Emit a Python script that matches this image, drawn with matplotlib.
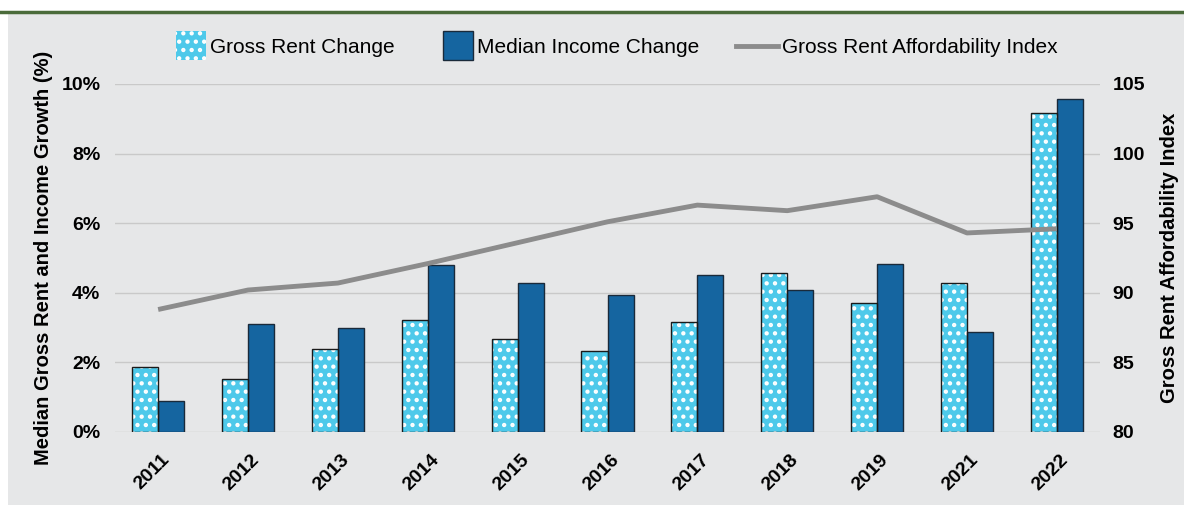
import matplotlib
matplotlib.use("Agg")
import matplotlib.pyplot as plt
import matplotlib.transforms as mtransforms
import numpy as np
from matplotlib.patches import Rectangle, Patch
from matplotlib.lines import Line2D
from matplotlib.legend_handler import HandlerPatch
from matplotlib import font_manager

years = ["2011", "2012", "2013", "2014", "2015", "2016", "2017", "2018", "2019", "2021", "2022"]
rent_change = [1.87, 1.52, 2.38, 3.22, 2.67, 2.33, 3.16, 4.57, 3.71, 4.28, 9.17]
income_change = [0.89, 3.10, 2.99, 4.80, 4.28, 3.94, 4.52, 4.08, 4.83, 2.87, 9.57]
afford_index = [88.8, 90.2, 90.7, 92.1, 93.6, 95.1, 96.3, 95.9, 96.9, 94.3, 94.6]
left_ticks = [0, 2, 4, 6, 8, 10]
left_tick_labels = ["0%", "2%", "4%", "6%", "8%", "10%"]
right_ticks = [80, 85, 90, 95, 100, 105]

names = {f.name for f in font_manager.fontManager.ttflist}
base_font = "Liberation Sans" if "Liberation Sans" in names else "DejaVu Sans"
plt.rcParams["font.family"] = [base_font, "DejaVu Sans"]
plt.rcParams["hatch.color"] = "white"
plt.rcParams["hatch.linewidth"] = 1.9

RENT_C = "#4ec9ea"
INC_C = "#1565a0"
LINE_C = "#8c8c8c"
BG = "#e6e7e8"
GRID_C = "#c9c9c9"

fig = plt.figure(figsize=(11.84, 5.05), dpi=100)
fig.patch.set_facecolor("white")
W, H = 1184, 505
fig.patches.append(Rectangle((8 / W, 0), 1 - 8 / W, (H - 14) / H, transform=fig.transFigure,
                             facecolor=BG, edgecolor="none", zorder=-10))
fig.add_artist(Line2D([0, 1], [(H - 11.5) / H] * 2, transform=fig.transFigure,
                      color="#4a6b3a", linewidth=2.5))

ax = fig.add_axes([115 / W, (H - 432) / H, (1100 - 115) / W, (432 - 84) / H])
ax.set_facecolor("none")
x = np.arange(len(years))
bw = 0.29

ax.bar(x - bw / 2, rent_change, bw, facecolor=RENT_C, edgecolor="white", hatch="..",
       linewidth=0, zorder=3)
ax.bar(x - bw / 2, rent_change, bw, facecolor="none", edgecolor="#1a1a1a", linewidth=1.0, zorder=4)
ax.bar(x + bw / 2, income_change, bw, facecolor=INC_C, edgecolor="#1a2a3a", linewidth=1.0, zorder=3)

ax.set_ylim(0, 10)
ax.set_xlim(-0.48, len(years) - 0.52)
ax.set_yticks(left_ticks)
ax.set_yticklabels(left_tick_labels, fontsize=14, fontweight="bold")
ax.yaxis.grid(True, color=GRID_C, linewidth=1.0, zorder=0)
ax.set_axisbelow(True)
ax.tick_params(axis="both", length=0)
ax.tick_params(axis="y", pad=10.5)
ax.set_xticks(x)
ax.set_xticklabels(years, rotation=45, ha="right", va="center", rotation_mode="anchor",
                   fontsize=14, fontweight="bold")
ax.tick_params(axis="x", pad=18)
offset = mtransforms.ScaledTranslation(6.5 / 72, 0, fig.dpi_scale_trans)
for lbl in ax.get_xticklabels():
    lbl.set_transform(lbl.get_transform() + offset)
for s in ax.spines.values():
    s.set_visible(False)
ax.set_ylabel("Median Gross Rent and Income Growth (%)", fontsize=14.5, fontweight="bold")
ax.yaxis.set_label_coords(-(115 - 53) / (1100 - 115), 0.5)

ax2 = ax.twinx()
ax2.set_ylim(80, 105)
ax2.set_yticks(right_ticks)
ax2.set_yticklabels([str(t) for t in right_ticks], fontsize=14, fontweight="bold")
ax2.tick_params(axis="y", length=0, pad=9)
for s in ax2.spines.values():
    s.set_visible(False)
ax2.plot(x, afford_index, color=LINE_C, linewidth=3.5, zorder=5, solid_capstyle="butt")
ax2.set_ylabel("Gross Rent Affordability Index", fontsize=14.5, fontweight="bold")
ax2.yaxis.set_label_coords(1 + (1160 - 1100) / (1100 - 115), 0.5)


def narrow_rect(legend, orig_handle, xdescent, ydescent, width, height, fontsize):
    w = width * 0.72
    h = height * 2.0
    return Rectangle((-xdescent + width - w, -ydescent - (h - height) / 2), w, h)


handles = [
    Patch(facecolor=RENT_C, edgecolor="white", hatch="..", linewidth=0),
    Patch(facecolor=INC_C, edgecolor="#1a2a3a", linewidth=1.0),
    Line2D([0], [0], color=LINE_C, linewidth=3.5),
]
labels = ["Gross Rent Change", "Median Income Change", "Gross Rent Affordability Index"]
fig.legend(handles, labels, loc="center", bbox_to_anchor=(611 / W, (H - 47.5) / H), ncol=3,
           frameon=False, prop={"family": base_font, "size": 15},
           handlelength=2.0, handletextpad=0.2, columnspacing=1.75,
           handler_map={Patch: HandlerPatch(patch_func=narrow_rect)})

fig.savefig("out.png", dpi=100, facecolor=fig.get_facecolor())
